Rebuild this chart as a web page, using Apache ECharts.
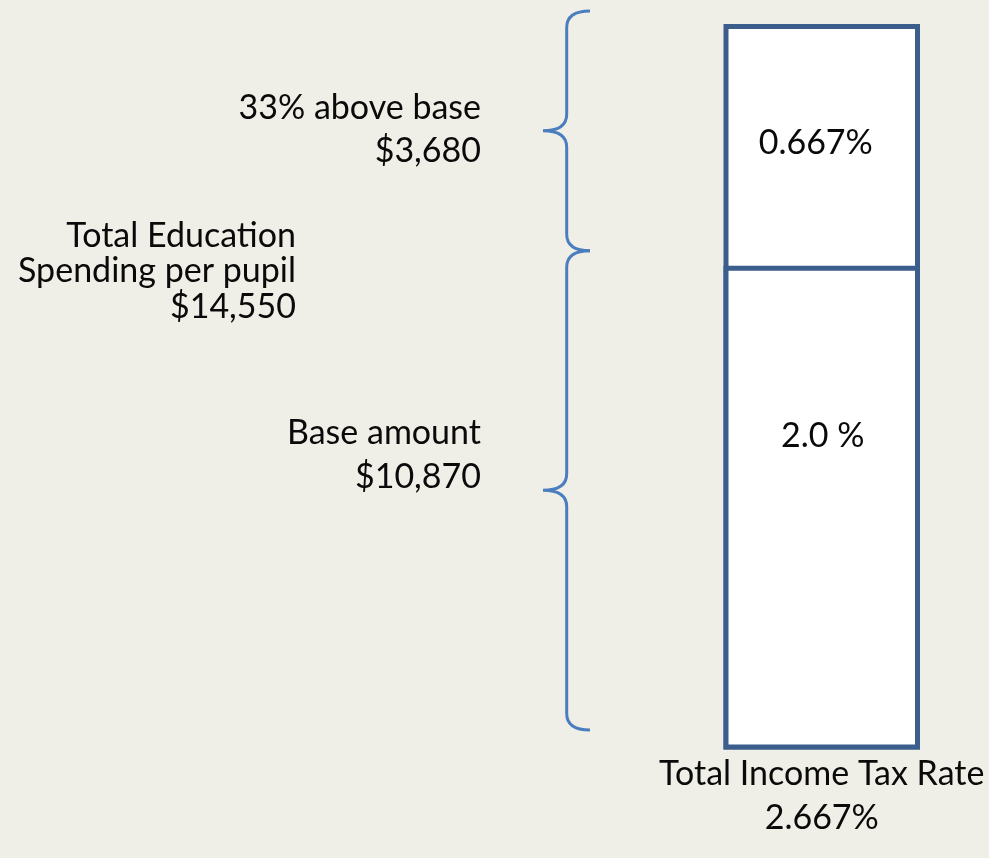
<!DOCTYPE html>
<html>
<head>
<meta charset="utf-8">
<script src="https://cdn.jsdelivr.net/npm/echarts@6/dist/echarts.min.js"></script>
<style>
html,body{margin:0;padding:0;background:#F0EFE7;}
#chart{width:989px;height:858px;}
</style>
</head>
<body>
<div id="chart"></div>
<script>
// ---- data ----
const categories = ['Total Income Tax Rate\n2.667%'];
const segmentNames = ['Base', 'Above base'];
const segmentHeights = [2, 1];            // visual heights (2/3 and 1/3 of bar)
const segmentLabels = ['2.0 %', '0.667%'];
const braceRanges = [[2, 3], [0, 2]];     // y-extent covered by each brace
const noteUpper = ['33% above base', '$3,680'];
const noteTotal = ['Total Educa\u200Ction', 'Spending per pupil', '$14,550'];
const noteBase = ['Base amount', '$10,870'];

const FONT = 'Lato';
const FS = 34;
const INK = '#0A0A0A';
const BORDER = '#3B5E8C';
const BRACE = '#4A7EBE';

const totalHeight = segmentHeights.reduce((a, b) => a + b, 0);

const chart = echarts.init(document.getElementById('chart'));

function braceItem(params, api) {
  const cs = params.coordSys;
  const y0 = api.value(1), y1 = api.value(2);
  const pTop = api.coord([api.value(0), y1]);
  const pBot = api.coord([api.value(0), y0]);
  const half = api.size([1, 0])[0] / 2;
  const left = pTop[0] - half;
  const map = y => cs.y - 13 + (y - cs.y) * 0.991;
  const top = map(pTop[1]), bot = map(pBot[1]), mid = (top + bot) / 2;
  const vx = left - 156.8, tx = left - 180.5, ex = left - 133.5;
  const r = 16.5;
  const path = 'M' + ex + ',' + top +
    ' Q' + vx + ',' + top + ' ' + vx + ',' + (top + r) +
    ' L' + vx + ',' + (mid - r) +
    ' Q' + vx + ',' + mid + ' ' + tx + ',' + mid +
    ' Q' + vx + ',' + mid + ' ' + vx + ',' + (mid + r) +
    ' L' + vx + ',' + (bot - r) +
    ' Q' + vx + ',' + bot + ' ' + ex + ',' + bot;
  return {
    type: 'path',
    shape: { pathData: path },
    style: { stroke: BRACE, lineWidth: 3, fill: 'none' }
  };
}

function textBlock(lines, x, y, lh) {
  return {
    type: 'text',
    x: x, y: y,
    style: {
      text: lines.join('\n'),
      font: FS + 'px ' + FONT,
      fill: INK,
      align: 'right',
      verticalAlign: 'middle',
      lineHeight: lh
    }
  };
}

const labelBase = { show: true, fontFamily: FONT, fontSize: FS, color: INK, align: 'center', verticalAlign: 'middle' };

chart.setOption({
  backgroundColor: '#F0EFE7',
  animation: false,
  grid: { left: 723.5, right: 69, top: 24, bottom: 108.5, containLabel: false },
  xAxis: {
    type: 'category',
    data: categories,
    axisLine: { show: false },
    axisTick: { show: false },
    axisLabel: {
      fontFamily: FONT, fontSize: FS, color: INK,
      lineHeight: 44, margin: 2.5, interval: 0
    }
  },
  yAxis: { type: 'value', min: 0, max: totalHeight, show: false, splitLine: { show: false } },
  series: [
    {
      type: 'bar',
      name: segmentNames[1],
      barWidth: '100%',
      barGap: '-100%',
      data: [totalHeight],
      itemStyle: { color: '#FFFFFF', borderColor: BORDER, borderWidth: 5 },
      label: Object.assign({}, labelBase, {
        position: ['50%', (segmentHeights[1] / totalHeight * 50 - 0.2) + '%'],
        offset: [-6, 0],
        formatter: segmentLabels[1]
      }),
      z: 2
    },
    {
      type: 'bar',
      name: segmentNames[0],
      barWidth: '100%',
      barGap: '-100%',
      data: [segmentHeights[0]],
      itemStyle: { color: '#FFFFFF', borderColor: BORDER, borderWidth: 5 },
      label: Object.assign({}, labelBase, {
        position: ['50%', '35.2%'],
        offset: [1, 0],
        formatter: segmentLabels[0]
      }),
      z: 3
    },
    {
      type: 'custom',
      renderItem: braceItem,
      encode: { x: 0, y: [1, 2] },
      data: braceRanges.map(r => [0, r[0], r[1]]),
      silent: true,
      z: 4
    }
  ],
  graphic: [
    textBlock(noteUpper, 481, 130, 43),
    textBlock(noteTotal, 296, 271.5, 35.5),
    textBlock(noteBase, 481, 455, 44)
  ]
});
</script>
</body>
</html>
